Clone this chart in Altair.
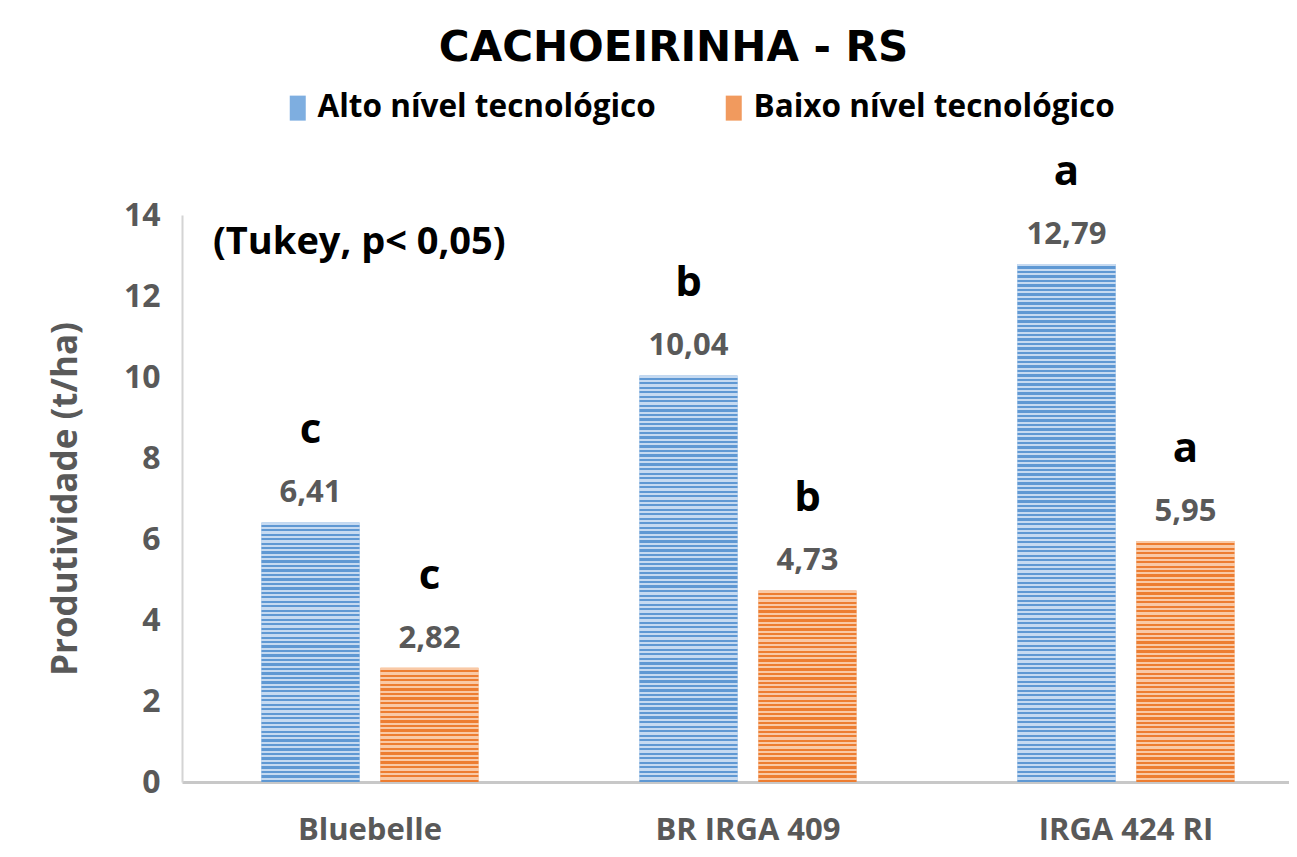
import altair as alt
import pandas as pd

# ---- data ----
varieties = ["Bluebelle", "BR IRGA 409", "IRGA 424 RI"]
levels = ["Alto nível tecnológico", "Baixo nível tecnológico"]
alto = [6.41, 10.04, 12.79]
baixo = [2.82, 4.73, 5.95]
letters_alto = ["c", "b", "a"]
letters_baixo = ["c", "b", "a"]
title_text = "CACHOEIRINHA - RS"
y_title = "Produtividade (t/ha)"
note_text = "(Tukey, p< 0,05)"
y_ticks = [0, 2, 4, 6, 8, 10, 12, 14]

rows = []
for v, a, b, la, lb in zip(varieties, alto, baixo, letters_alto, letters_baixo):
    rows.append({"variety": v, "level": levels[0], "value": a, "letter": la})
    rows.append({"variety": v, "level": levels[1], "value": b, "letter": lb})
df = pd.DataFrame(rows)
df["label"] = df["value"].map(lambda x: f"{x:.2f}".replace(".", ","))

# ---- style ----
BLUE = "#7eaee0"
ORANGE = "#f19a5e"
STRIPES = {
    levels[0]: ("#c6daf1", "#5f98d3"),
    levels[1]: ("#f9c9a6", "#ed7d31"),
}
GRAY = "#595959"
FONT = "Open Sans"
PX_PER_UNIT = 567 / 14
PITCH = 4.5

x_enc = alt.X(
    "variety:N",
    sort=varieties,
    scale=alt.Scale(paddingInner=0.426, paddingOuter=0.1773, align=0.593),
    axis=alt.Axis(
        title=None, labelAngle=0, labelFont=FONT, labelFontWeight="bold",
        labelFontSize=31, labelColor=GRAY, labelPadding=33, labelLimit=0,
        domainColor="#c8c8c8", domainWidth=3, ticks=False, grid=False,
    ),
)
xo_enc = alt.XOffset(
    "level:N", sort=levels,
    scale=alt.Scale(domain=levels, paddingInner=0.176, paddingOuter=0),
)
y_enc = alt.Y(
    "value:Q",
    scale=alt.Scale(domain=[0, 14], nice=False),
    axis=alt.Axis(
        values=y_ticks, title=y_title, labelFont=FONT, labelFontWeight="bold",
        labelFontSize=32, labelColor=GRAY, labelPadding=22,
        titleFont=FONT, titleFontWeight="bold", titleFontSize=35,
        titleColor=GRAY, titlePadding=40, domainColor="#d4d4d4",
        domainWidth=2, ticks=False, grid=False,
    ),
)

base = alt.Chart(df).encode(x=x_enc, xOffset=xo_enc, y=y_enc)

bars = base.mark_bar().encode(
    color=alt.Color(
        "level:N",
        scale=alt.Scale(domain=levels, range=[BLUE, ORANGE]),
        legend=alt.Legend(
            title=None, orient="none", legendX=100, legendY=-123,
            direction="horizontal",
            symbolType="M-0.64,-1H0.64V1H-0.64Z", symbolSize=625,
            symbolStrokeWidth=0, labelFont=FONT, labelFontWeight="bold",
            labelFontSize=31.5, labelColor="black", labelOffset=4,
            columnPadding=62, labelLimit=0,
        ),
    )
)


def stripe_gradient(value, light, dark):
    n = max(1, round(value * PX_PER_UNIT / PITCH))
    stops = []
    for i in range(n):
        o0 = i / n
        o1 = (i + 0.5) / n
        o2 = (i + 1) / n
        stops += [
            alt.GradientStop(offset=o0, color=light),
            alt.GradientStop(offset=o1, color=light),
            alt.GradientStop(offset=o1, color=dark),
            alt.GradientStop(offset=o2, color=dark),
        ]
    return alt.LinearGradient(gradient="linear", x1=0, y1=0, x2=0, y2=1, stops=stops)


overlays = []
for _, r in df.iterrows():
    light, dark = STRIPES[r["level"]]
    overlays.append(
        base.transform_filter(
            (alt.datum.variety == r["variety"]) & (alt.datum.level == r["level"])
        ).mark_bar(fill=stripe_gradient(r["value"], light, dark))
    )

labels = base.mark_text(
    font=FONT, fontWeight="bold", fontSize=31, color=GRAY,
    baseline="alphabetic", dy=-20,
).encode(text="label:N")

letters = base.mark_text(
    font=FONT, fontWeight="bold", fontSize=42, color="black",
    baseline="alphabetic", dy=-79,
).encode(text="letter:N")

note_df = pd.DataFrame({"variety": [varieties[0]], "value": [13.3], "t": [note_text]})
note = alt.Chart(note_df).mark_text(
    font=FONT, fontWeight="bold", fontSize=38, color="black",
    align="left", baseline="middle", dx=-157,
).encode(
    x=alt.X("variety:N", sort=varieties),
    y=alt.Y("value:Q"),
    text="t:N",
)

chart = alt.layer(bars, *overlays, labels, letters, note).properties(
    width=1107,
    height=567,
    padding={"left": 174, "top": 207, "right": 0, "bottom": 67},
    autosize=alt.AutoSizeParams(type="none"),
    title=alt.Title(
        title_text, font="DejaVu Sans", fontWeight="bold", fontSize=42,
        color="black", anchor="middle", dx=-62, offset=22,
    ),
).configure_view(stroke=None)

chart.save("out.html", embed_options={"renderer": "svg", "actions": False})
